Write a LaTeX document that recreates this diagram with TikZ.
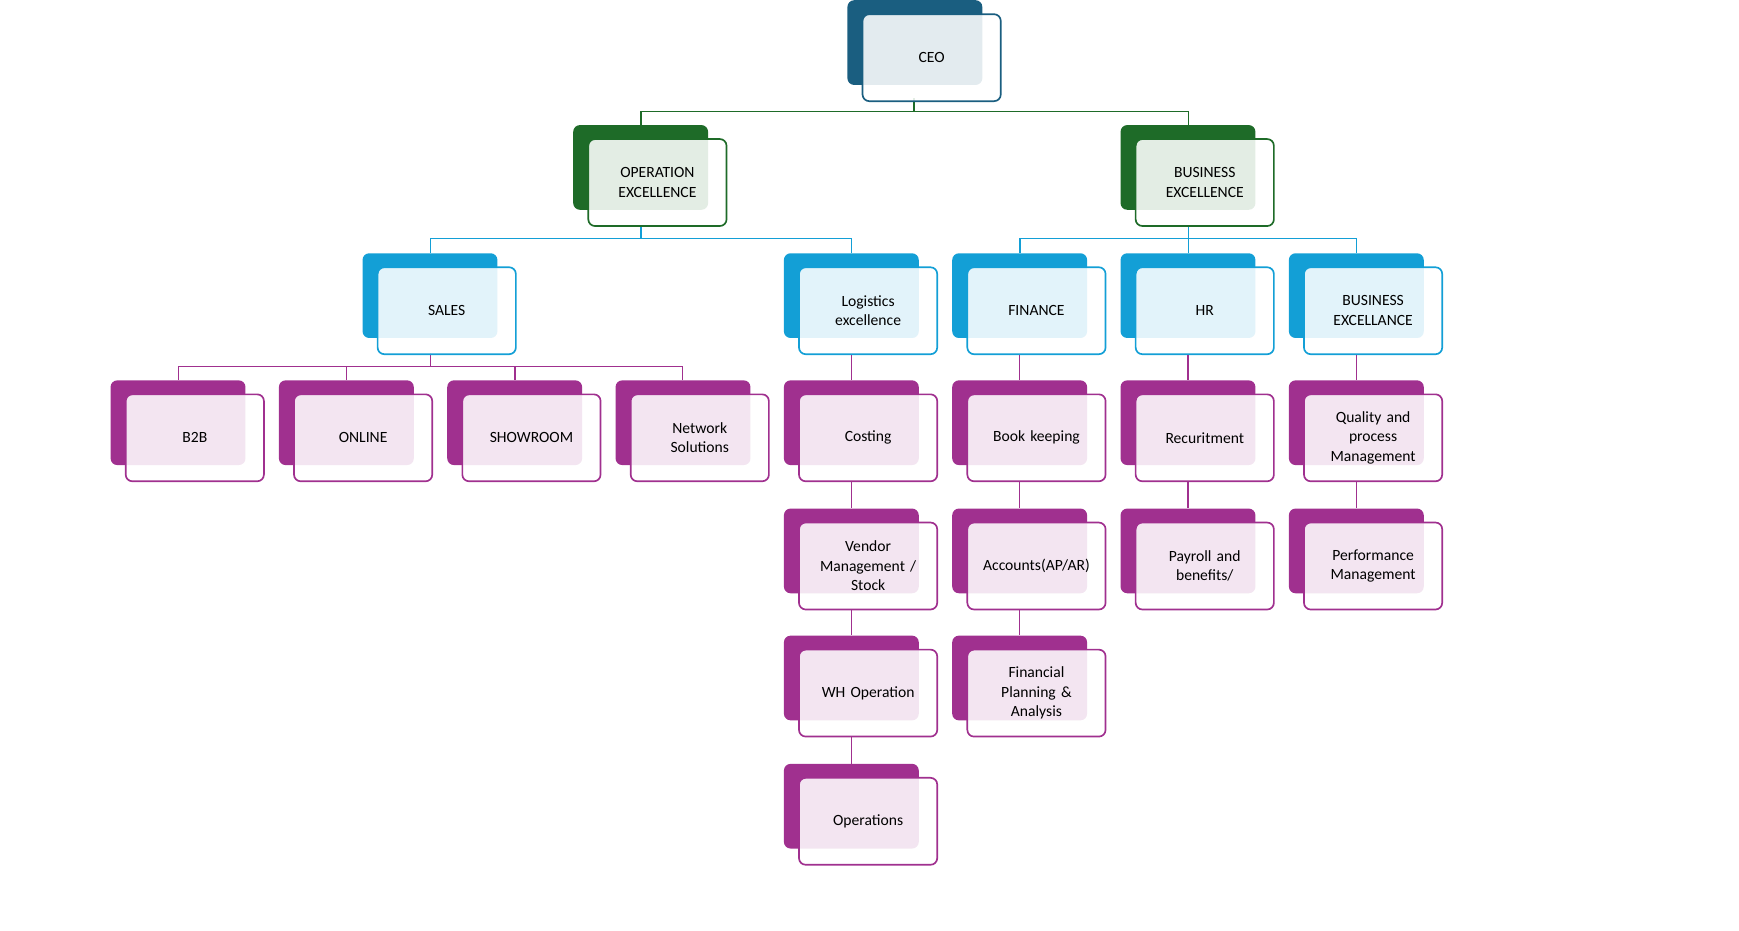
\documentclass[tikz,border=0pt]{standalone}
\usepackage{fontspec}
\setmainfont{Carlito}
\definecolor{cnavy}{HTML}{1A5E80}
\definecolor{cgreen}{HTML}{1E6B28}
\definecolor{cblue}{HTML}{139FD6}
\definecolor{cpurple}{HTML}{A0308F}
\begin{document}
\begin{tikzpicture}[x=1pt,y=-1pt,
  back/.style={draw=none,rounded corners=6pt,anchor=north west,minimum width=121pt,minimum height=76pt,inner sep=0pt},
  front/.style={draw,line width=1.5pt,rounded corners=6pt,anchor=north west,minimum width=124pt,minimum height=78pt,
     fill=white,fill opacity=0.88,text opacity=1,align=center,inner sep=2pt,text width=110pt,
     font=\fontsize{14}{17.5}\selectfont},
  lk/.style={line width=1.3pt}]
\useasboundingbox (0,0) rectangle (1560,835);
\newcommand{\obox}[5]{%
  \node[back,fill=#4] (#1-b) at (#2-13,#3-12) {};
  \node[front,draw=#4] (#1) at (#2,#3) {#5};}
% connectors (drawn first)
\coordinate (c0) at (820,88);
\draw[lk,cgreen] (820,88) -- (820,100) -| (575,113);
\draw[lk,cgreen] (820,100) -| (1066,113);
\draw[lk,cblue] (575,202) -- (575,214) -| (386,227);
\draw[lk,cblue] (575,214) -| (764,227);
\draw[lk,cblue] (1066,202) -- (1066,214) -| (915,227);
\draw[lk,cblue] (1066,214) -| (1217,227);
\draw[lk,cblue] (1066,214) -- (1066,227);
\draw[lk,cpurple] (386,317) -- (386,329) -| (160,341);
\draw[lk,cpurple] (386,329) -| (612,341);
\draw[lk,cpurple] (311,329) -- (311,341);
\draw[lk,cpurple] (462,329) -- (462,341);
% boxes
\obox{ceo}{773}{12}{cnavy}{CEO}
\obox{ops}{527}{124}{cgreen}{OPERATION\\EXCELLENCE}
\obox{bus}{1018}{124}{cgreen}{BUSINESS\\EXCELLENCE}
\obox{sales}{338}{239}{cblue}{SALES}
\obox{log}{716}{239}{cblue}{Logistics\\excellence}
\obox{fin}{867}{239}{cblue}{FINANCE}
\obox{hr}{1018}{239}{cblue}{HR}
\obox{bex}{1169}{239}{cblue}{BUSINESS\\EXCELLANCE}
\obox{b2b}{112}{353}{cpurple}{B2B}
\obox{onl}{263}{353}{cpurple}{ONLINE}
\obox{show}{414}{353}{cpurple}{SHOWROOM}
\obox{net}{565}{353}{cpurple}{Network\\Solutions}
\obox{cost}{716}{353}{cpurple}{Costing}
\obox{book}{867}{353}{cpurple}{Book keeping}
\obox{rec}{1018}{353}{cpurple}{Recuritment}
\obox{qpm}{1169}{353}{cpurple}{Quality and\\process\\Management}
\obox{vend}{716}{468}{cpurple}{Vendor\\Management /\\Stock}
\obox{acc}{867}{468}{cpurple}{Accounts(AP/AR)}
\obox{pay}{1018}{468}{cpurple}{Payroll and\\benefits/}
\obox{perf}{1169}{468}{cpurple}{Performance\\Management}
\obox{wh}{716}{582}{cpurple}{WH Operation}
\obox{fpa}{867}{582}{cpurple}{Financial\\Planning \&\\Analysis}
\obox{opsn}{716}{697}{cpurple}{Operations}
% vertical chains
\begin{scope}[on background layer/.style={}]
\draw[lk,cpurple] (log-b.center |- log.south) -- (cost-b.north);
\draw[lk,cpurple] (cost-b.center |- cost.south) -- (vend-b.north);
\draw[lk,cpurple] (vend-b.center |- vend.south) -- (wh-b.north);
\draw[lk,cpurple] (wh-b.center |- wh.south) -- (opsn-b.north);
\draw[lk,cpurple] (fin-b.center |- fin.south) -- (book-b.north);
\draw[lk,cpurple] (book-b.center |- book.south) -- (acc-b.north);
\draw[lk,cpurple] (acc-b.center |- acc.south) -- (fpa-b.north);
\draw[lk,cpurple] (hr-b.center |- hr.south) -- (rec-b.north);
\draw[lk,cpurple] (rec-b.center |- rec.south) -- (pay-b.north);
\draw[lk,cpurple] (bex-b.center |- bex.south) -- (qpm-b.north);
\draw[lk,cpurple] (qpm-b.center |- qpm.south) -- (perf-b.north);
\end{scope}
\end{tikzpicture}
\end{document}
